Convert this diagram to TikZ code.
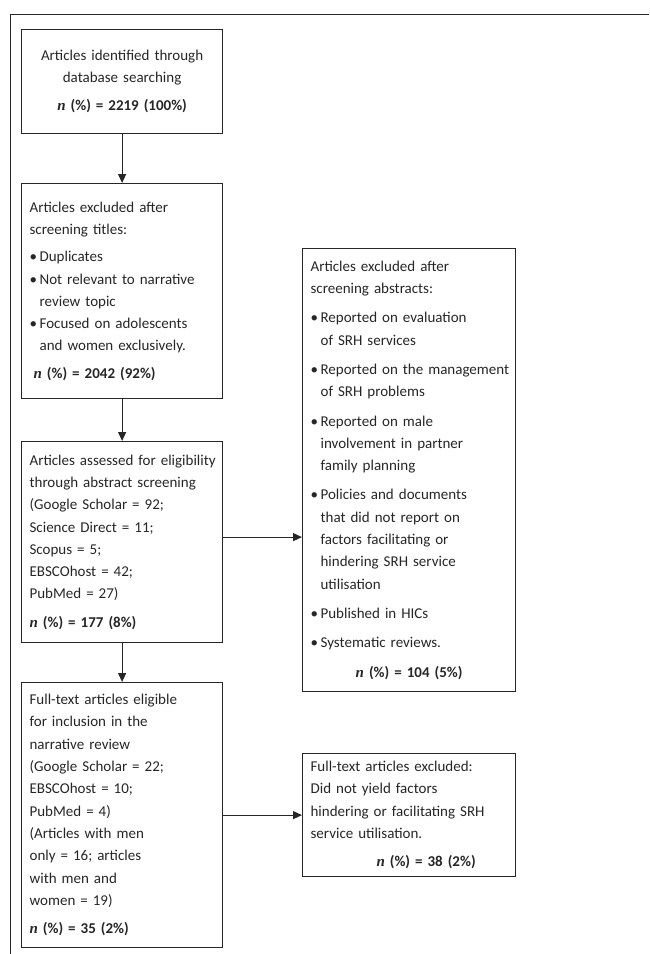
\documentclass[tikz,border=0pt]{standalone}
\usepackage{fontspec}
\setmainfont{Carlito}
\newfontfamily\nfont{Liberation Serif}
\usetikzlibrary{arrows.meta}
\definecolor{linegray}{RGB}{38,38,38}

\newcommand\nval[1]{{\nfont\bfseries\itshape n} \textbf{(\%) = #1}}
\newcommand\bitem[1]{\par\hangindent=10pt\hangafter=1\noindent\makebox[10pt][l]{\textbullet}#1}
\newcommand\loosen{\rightskip=-12pt plus 1fil\hyphenpenalty=10000\relax}

\begin{document}
\begin{tikzpicture}[x=1pt, y=-1pt, line width=1.2pt, draw=linegray,
  -{Triangle[width=8pt, length=9pt]},
  every node/.style={font=\fontsize{15}{22.3}\selectfont, text=black!85}]
  \long\def\mybox#1#2#3#4#5#6{
    \node[draw=linegray, line width=1.2pt, anchor=north west,
    inner xsep=8pt, inner ysep=0pt, text width=#4,
    minimum height=#5, align=left]
    (#1) at #3 {#2#6\par};
  }
  \useasboundingbox (0,0) rectangle (649,954);
  % frame round the figure
  \draw[-, line width=1pt] (649,14) -| (10,954);

  \mybox{identified}{\centering}{(21,29)}{185pt}{104pt}
  {Articles identified through\\
    database searching\par\vspace{6pt}
  \nval{2219 (100\%)}}

  \mybox{titles}{\loosen}{(21,183)}{185pt}{215pt}
  {Articles excluded after\\
    screening titles:\par\vspace{5pt}
    \bitem{Duplicates}
    \bitem{Not relevant to narrative\newline review topic}
    \bitem{Focused on adolescents\newline and women exclusively.}
    \par\vspace{5pt}\noindent\hspace*{4pt}\nval{2042 (92\%)}}

  \mybox{assessed}{\loosen}{(21,441)}{185pt}{201pt}
  {Articles assessed for eligibility\\
    through abstract screening\\
    (Google Scholar = 92;\\
    Science Direct = 11;\\
    Scopus = 5;\\
    EBSCOhost = 42;\\
    PubMed = 27)\par\vspace{6pt}
  \nval{177 (8\%)}}

  \mybox{fulltext}{\loosen}{(21,682)}{185pt}{265pt}
  {Full-text articles eligible\\
    for inclusion in the\\
    narrative review\\
    (Google Scholar = 22;\\
    EBSCOhost = 10;\\
    PubMed = 4)\\
    (Articles with men\\
    only = 16; articles\\
    with men and\\
    women = 19)\par\vspace{6pt}
  \nval{35 (2\%)}}

  \mybox{abstracts}{\loosen}{(302,248)}{197pt}{443pt}
  {Articles excluded after\\
    screening abstracts:\par\vspace{7pt}
    \bitem{Reported on evaluation\newline of SRH services}\par\vspace{7pt}
    \bitem{Reported on the management\newline of SRH problems}\par\vspace{7pt}
    \bitem{Reported on male\newline involvement in partner\newline family planning}\par\vspace{7pt}
    \bitem{Policies and documents\newline that did not report on\newline factors facilitating or\newline
      hindering SRH service\newline utilisation}\par\vspace{7pt}
    \bitem{Published in HICs}\par\vspace{7pt}
    \bitem{Systematic reviews.}\par\vspace{7pt}
  {\centering\nval{104 (5\%)}\par}}

  \mybox{ftexcluded}{\loosen}{(302,753)}{197pt}{123pt}
  {Full-text articles excluded:\\
    Did not yield factors\\
    hindering or facilitating SRH\\
    service utilisation.\par\vspace{6pt}
  {\centering\hspace*{34pt}\nval{38 (2\%)}\par}}

  \draw (identified.south) -- (titles.north);
  \draw (titles.south) -- (assessed.north);
  \draw (assessed.south) -- (fulltext.north);
  \draw ([yshift=5pt]assessed.east) -- ([yshift=5pt]assessed.east -| abstracts.west);
  \draw (fulltext.east) -- (fulltext.east -| ftexcluded.west);
\end{tikzpicture}
\end{document}
